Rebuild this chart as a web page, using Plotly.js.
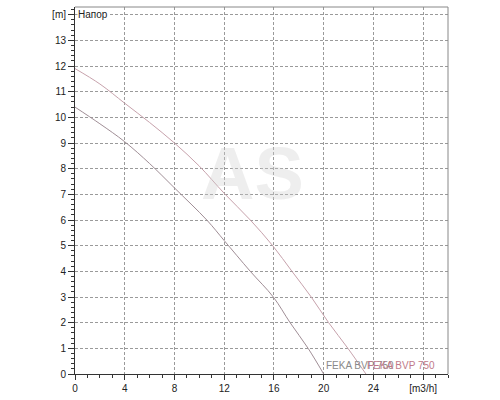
<!DOCTYPE html>
<html>
<head>
<meta charset="utf-8">
<script src="https://cdn.plot.ly/plotly-3.0.1.min.js"></script>
<style>
  html, body { margin: 0; padding: 0; background: #fff; }
  #chart { width: 500px; height: 400px; }
</style>
</head>
<body>
<div id="chart"></div>
<script>
/* pump head curves */
const flowUpper = [0, 2, 4, 6, 8, 10, 12, 14.1, 15.9, 17.45, 19.0, 20.4, 21.95, 23.4];
const headUpper = [11.9, 11.3, 10.55, 9.8, 9.0, 8.1, 7.04, 6.0, 5.0, 4.0, 3.0, 2.0, 1.0, 0];
const flowLower = [0, 2, 4, 6, 8, 10.6, 12, 14.1, 15.95, 17.3, 18.75, 20];
const headLower = [10.4, 9.75, 9.05, 8.2, 7.25, 6.0, 5.2, 4.0, 3.0, 2.0, 1.0, 0];

const seriesNames = ['FEKA BVP 750', 'FEKA BVP 750'];
const xTickVals = [0, 4, 8, 12, 16, 20, 24, 28];
const xTickText = ['0', '4', '8', '12', '16', '20', '24', '[m3/h]'];
const yTickVals = [0, 1, 2, 3, 4, 5, 6, 7, 8, 9, 10, 11, 12, 13, 14];
const yTickText = ['0', '1', '2', '3', '4', '5', '6', '7', '8', '9', '10', '11', '12', '13', '[m]'];

const FONT = 'Liberation Sans, Arial, sans-serif';
const COL_UPPER = '#c7a2ac';
const COL_LOWER = '#a08e96';

const traces = [
  {
    type: 'scatter', mode: 'lines', x: flowLower, y: headLower, name: seriesNames[0],
    line: { color: COL_LOWER, width: 1, shape: 'spline', smoothing: 1 },
  },
  {
    type: 'scatter', mode: 'lines', x: flowUpper, y: headUpper, name: seriesNames[1],
    line: { color: COL_UPPER, width: 1, shape: 'spline', smoothing: 1 },
  },
];

const axis = {
  showgrid: true, gridcolor: '#9a9a9a', gridwidth: 1, griddash: '3px,2px',
  zeroline: false, showline: true, linecolor: '#333', linewidth: 1,
  ticks: 'outside', tickcolor: '#333', tickwidth: 1,
  tickfont: { family: FONT, size: 10, color: '#222' },
  tickmode: 'array', fixedrange: true,
};

const layout = {
  width: 500, height: 400,
  paper_bgcolor: '#fff', plot_bgcolor: '#fff',
  margin: { l: 75, r: 52, t: 7, b: 26 },
  showlegend: false,
  font: { family: FONT, size: 10, color: '#222' },
  xaxis: Object.assign({}, axis, {
    range: [0, 30], tickvals: xTickVals, ticktext: xTickText, ticklen: 5,
    minor: { dtick: 1, ticklen: 3, tickcolor: '#333', showgrid: false, ticks: 'outside' },
  }),
  yaxis: Object.assign({}, axis, {
    range: [0, 14.3], tickvals: yTickVals, ticktext: yTickText, ticklen: 6,
    minor: { dtick: 0.2, ticklen: 3, tickcolor: '#333', showgrid: false, ticks: 'outside' },
  }),
  shapes: [
    { type: 'line', xref: 'paper', yref: 'paper', x0: 0, x1: 1, y0: 1, y1: 1,
      line: { color: '#888', width: 1 } },
    { type: 'line', xref: 'paper', yref: 'paper', x0: 1, x1: 1, y0: 0, y1: 1,
      line: { color: '#888', width: 1 } },
  ],
  annotations: [
    { text: '<b>AS</b>', xref: 'paper', yref: 'paper', x: 0.475, y: 0.545,
      showarrow: false, font: { family: FONT, size: 74, color: 'rgba(205,205,205,0.35)' } },
    { text: 'Напор', xref: 'x', yref: 'y', x: 0.15, y: 14, xanchor: 'left', yanchor: 'middle',
      showarrow: false, bgcolor: '#fff', borderpad: 0,
      font: { family: FONT, size: 10, color: '#222' } },
    { text: seriesNames[0], xref: 'x', yref: 'y', x: flowLower[flowLower.length - 1], y: 0.05,
      xanchor: 'left', yanchor: 'bottom', showarrow: false,
      font: { family: FONT, size: 10, color: '#8a8a8a' } },
    { text: seriesNames[1], xref: 'x', yref: 'y', x: flowUpper[flowUpper.length - 1] - 0.1, y: 0.05,
      xanchor: 'left', yanchor: 'bottom', showarrow: false,
      font: { family: FONT, size: 10, color: '#c07a8a' } },
  ],
};

Plotly.newPlot('chart', traces, layout, { staticPlot: true });
</script>
</body>
</html>
